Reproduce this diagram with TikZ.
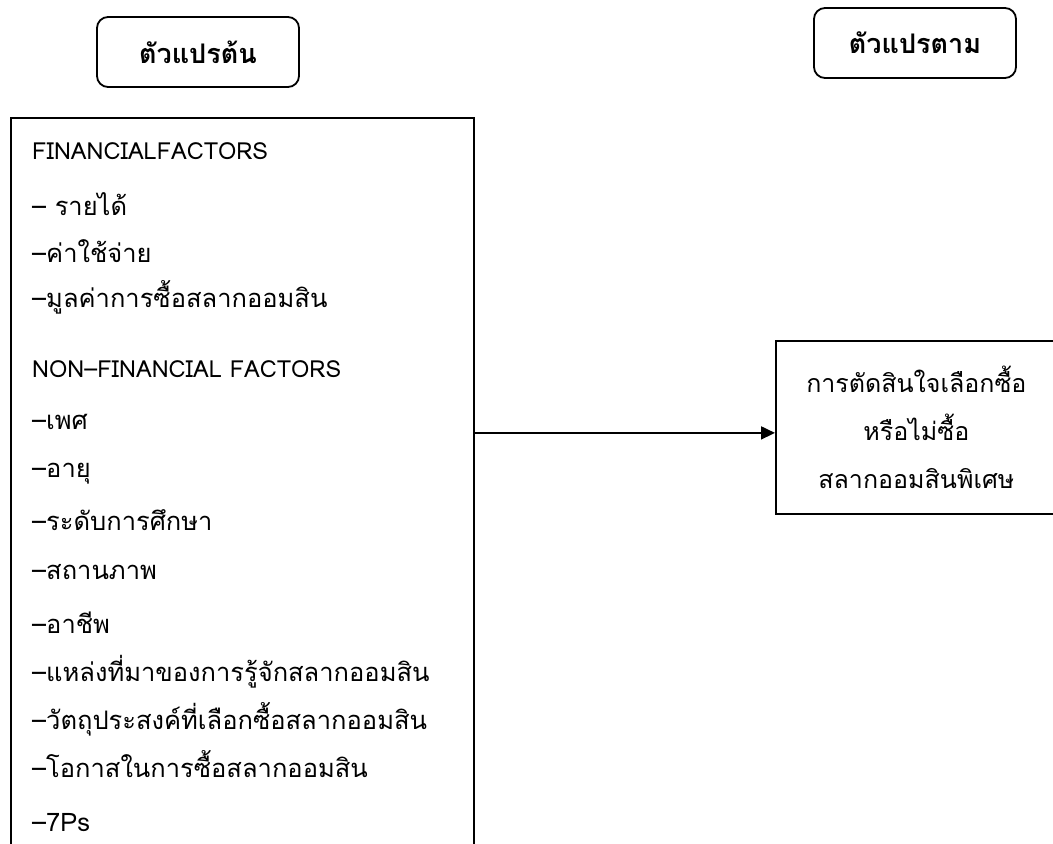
\documentclass[tikz,border=0pt]{standalone}
\usepackage{fontspec}
\setmainfont[Script=Thai]{Loma}
\usetikzlibrary{arrows.meta, positioning}
\newcommand\latinsz{\fontsize{23.5}{28}\selectfont}

\begin{document}
\begin{tikzpicture}[
    x=1pt, y=-1pt,
    font=\fontsize{25.5}{30}\selectfont,
    hdr/.style={draw, line width=1.8pt, rounded corners=11pt, minimum width=202pt, minimum height=70pt, font=\fontsize{27}{32}\selectfont\bfseries},
    blk/.style={draw, line width=1.8pt, inner sep=0pt},
    item/.style={anchor=base west, inner sep=0pt},
    >={Triangle[length=14pt, width=13pt]}
  ]
    \useasboundingbox (0,0) rectangle (1053,844);
    \clip (0,0) rectangle (1053,844);

    % column headers
    \node[hdr] (indephdr) at (198,52) {ตัวแปรต้น};
    \node[hdr] (dephdr) at (915,43) {ตัวแปรตาม};

    % ---- independent variables ----
    \node[blk, anchor=north west, minimum width=463pt, minimum height=760pt] (factors) at (10,117) {};
    \foreach \yy/\txt [count=\i] in {
        159/{\latinsz FINANCIALFACTORS}, 215/{– รายได้}, 262/{–ค่าใช้จ่าย}, 307/{–มูลค่าการซื้อสลากออมสิน},
        377/{\latinsz NON–FINANCIAL FACTORS}, 429/{–เพศ}, 477/{–อายุ}, 530/{–ระดับการศึกษา}, 579/{–สถานภาพ},
        633/{–อาชีพ}, 681/{–แหล่งที่มาของการรู้จักสลากออมสิน}, 729/{–วัตถุประสงค์ที่เลือกซื้อสลากออมสิน},
        777/{–โอกาสในการซื้อสลากออมสิน}, 831/{–7Ps}}
      \node[item] (f\i) at (32,\yy) {\txt};

    % ---- dependent variable ----
    \node[blk, anchor=north west, minimum width=281pt, minimum height=173pt, align=center,
          font=\fontsize{25}{48}\selectfont] (decision) at (775,340)
      {การตัดสินใจเลือกซื้อ\\หรือไม่ซื้อ\\สลากออมสินพิเศษ};

    \draw[->, line width=1.8pt] ([yshift=-5.5pt]factors.east |- decision.west) -- ([yshift=-5.5pt]decision.west);
\end{tikzpicture}
\end{document}
